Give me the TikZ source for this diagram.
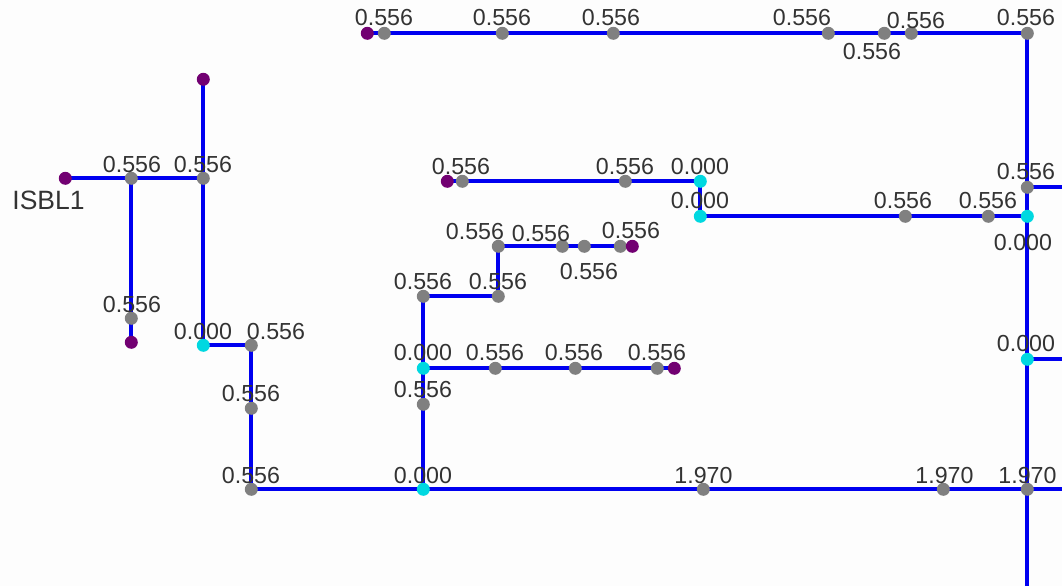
\documentclass[tikz,border=0pt]{standalone}
\usepackage{fontspec}
\setmainfont{Liberation Sans}
\usetikzlibrary{backgrounds}
\definecolor{bgc}{HTML}{FDFDFD}
\definecolor{pipe}{HTML}{0000F0}
\definecolor{gnode}{HTML}{808080}
\definecolor{cnode}{HTML}{00D8E0}
\definecolor{pnode}{HTML}{720072}
\definecolor{txt}{HTML}{333333}
\tikzset{
 nd/.style={circle,inner sep=0pt,minimum size=13pt},
 gn/.style={nd,fill=gnode},
 cn/.style={nd,fill=cnode},
 pn/.style={nd,fill=pnode},
 val/.style={inner sep=0pt,text=txt,font=\fontsize{23.2}{23}\selectfont},
 line/.style={draw=pipe,line width=4pt},
}
\newcommand{\N}[4]{\node[#1] (#2) at (#3+0.3,#4+0.3) {};}
\newcommand{\V}[4]{\node[val] (#1) at (#2,#3) {#4};}
\begin{document}
\begin{tikzpicture}[x=1pt,y=-1pt]
\useasboundingbox (0,0) rectangle (1062,586);
% top run
\N{pn}{a0}{367}{33}\N{gn}{a1}{384}{33}\N{gn}{a2}{502}{33}\N{gn}{a3}{613}{33}\N{gn}{a4}{828}{33}\N{gn}{a5}{884}{33}\N{gn}{a6}{911}{33}\N{gn}{a7}{1027}{33}
% right riser
\N{gn}{r1}{1027}{187}\N{cn}{r2}{1027}{216}\N{cn}{r3}{1027}{359}\N{gn}{r4}{1027}{489}
\coordinate (r1e) at (1062,187.3);\coordinate (r3e) at (1062,359.3);\coordinate (r4e) at (1062,489.3);\coordinate (r4s) at (1027.3,586);
% middle runs
\N{pn}{b0}{447}{181}\N{gn}{b1}{462}{181}\N{gn}{b2}{625}{181}\N{cn}{b3}{700}{181}
\N{cn}{c0}{700}{216}\N{gn}{c1}{905}{216}\N{gn}{c2}{988}{216}
% stair
\N{gn}{d0}{498}{246}\N{gn}{d1}{562}{246}\N{gn}{d2}{584}{246}\N{gn}{d3}{620}{246}\N{pn}{d4}{632}{246}
\N{gn}{e0}{423}{296}\N{gn}{e1}{498}{296}
\N{cn}{f0}{423}{368}\N{gn}{f1}{495}{368}\N{gn}{f2}{575}{368}\N{gn}{f3}{657}{368}\N{pn}{f4}{674}{368}
\N{gn}{f5}{423}{404}
% bottom
\N{gn}{g0}{251}{489}\N{cn}{g1}{423}{489}\N{gn}{g2}{703}{489}\N{gn}{g3}{943}{489}
% left part
\N{pn}{h0}{65}{178}\N{gn}{h1}{131}{178}\N{gn}{h2}{203}{178}\N{pn}{h3}{203}{79}
\N{gn}{h4}{131}{318}\N{pn}{h5}{131}{342}
\N{cn}{i0}{203}{345}\N{gn}{i1}{251}{345}\N{gn}{i2}{251}{408}
% connectors
\begin{scope}[on background layer]
\fill[bgc] (0,0) rectangle (1062,586);
\path[line] (a0.center)--(a1.center)--(a2.center)--(a3.center)--(a4.center)--(a5.center)--(a6.center)--(a7.center)--(r1.center)--(r2.center)--(r3.center)--(r4.center)--(r4s);
\path[line] (r1.center)--(r1e);
\path[line] (r3.center)--(r3e);
\path[line] (g0.center)--(g1.center)--(g2.center)--(g3.center)--(r4.center)--(r4e);
\path[line] (b0.center)--(b1.center)--(b2.center)--(b3.center)--(c0.center)--(c1.center)--(c2.center)--(r2.center);
\path[line] (d4.center)--(d3.center)--(d2.center)--(d1.center)--(d0.center)--(e1.center)--(e0.center)--(f0.center)--(f5.center)--(g1.center);
\path[line] (f0.center)--(f1.center)--(f2.center)--(f3.center)--(f4.center);
\path[line] (h0.center)--(h1.center)--(h2.center);
\path[line] (h3.center)--(h2.center)--(i0.center)--(i1.center)--(i2.center)--(g0.center);
\path[line] (h1.center)--(h4.center)--(h5.center);
\end{scope}
% labels
\V{l1}{384}{18}{0.556}\V{l2}{502}{18}{0.556}\V{l3}{611}{18}{0.556}\V{l4}{802}{18}{0.556}\V{l5}{916}{21}{0.556}\V{l6}{872}{52}{0.556}\V{l7}{1026}{18}{0.556}
\V{l8}{1026}{172}{0.556}\V{l9}{1023}{243}{0.000}\V{l10}{1026}{344}{0.000}
\V{l11}{461}{167}{0.556}\V{l12}{625}{167}{0.556}\V{l13}{700}{167}{0.000}\V{l14}{700}{201}{0.000}\V{l15}{903}{201}{0.556}\V{l16}{988}{201}{0.556}
\V{l17}{475}{232}{0.556}\V{l18}{541}{234}{0.556}\V{l19}{631}{231}{0.556}\V{l20}{589}{272}{0.556}
\V{l21}{423}{282}{0.556}\V{l22}{498}{282}{0.556}
\V{l23}{423}{353}{0.000}\V{l24}{495}{353}{0.556}\V{l25}{574}{353}{0.556}\V{l26}{657}{353}{0.556}\V{l27}{423}{390}{0.556}
\V{l28}{251}{476}{0.556}\V{l29}{423}{476}{0.000}\V{l30}{703.5}{476}{1.970}\V{l31}{944.5}{476}{1.970}\V{l32}{1027.5}{476}{1.970}
\V{l33}{132}{165}{0.556}\V{l34}{203}{165}{0.556}\V{l35}{132}{305}{0.556}\V{l36}{203}{332}{0.000}\V{l37}{276}{332}{0.556}\V{l38}{251}{394}{0.556}
\node[val,font=\fontsize{26.5}{26}\selectfont] (isbl) at (48.5,200) {ISBL1};
\end{tikzpicture}
\end{document}
